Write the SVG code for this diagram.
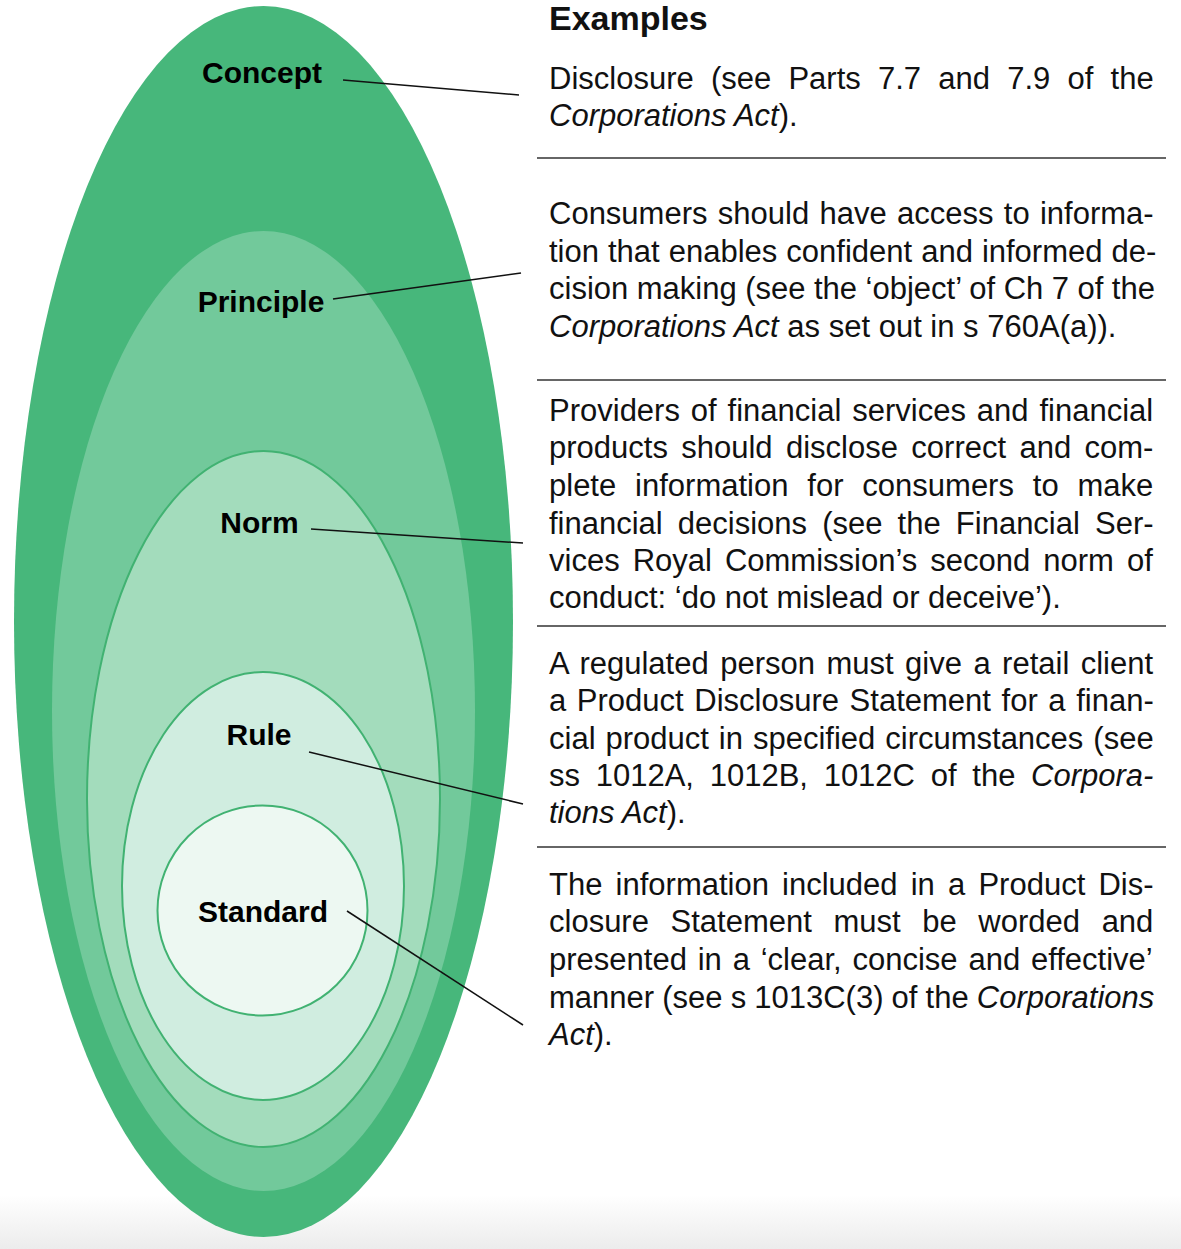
<svg xmlns="http://www.w3.org/2000/svg" width="1181" height="1249" viewBox="0 0 1181 1249">
<defs>
<linearGradient id="shade" x1="0" y1="0" x2="0" y2="1">
<stop offset="0" stop-color="#ffffff"/>
<stop offset="1" stop-color="#ececec"/>
</linearGradient>
</defs>
<style>
.lbl{font-family:"Liberation Sans",Arial,sans-serif;font-weight:bold;font-size:30px;fill:#000;text-anchor:middle}
.body{font-family:"Liberation Sans",Arial,sans-serif;font-size:31px;fill:#111}
.it{font-style:italic}
.head{font-family:"Liberation Sans",Arial,sans-serif;font-weight:bold;font-size:34px;fill:#111}
.rule{stroke:#333;stroke-width:1.6}
.conn{stroke:#111;stroke-width:1.5;fill:none}
.ring{stroke:#41b272;stroke-width:2}
</style>
<rect x="0" y="0" width="1181" height="1249" fill="#fff"/>
<rect x="0" y="1195" width="1181" height="54" fill="url(#shade)"/>

<g id="concept">
<ellipse cx="263.5" cy="621.5" rx="249.5" ry="615.5" fill="#47b77b"/>
<text class="lbl" x="262" y="83">Concept</text>
</g>
<g id="principle">
<ellipse cx="263.5" cy="711" rx="211.5" ry="480" fill="#72c99b"/>
<text class="lbl" x="261" y="312">Principle</text>
</g>
<g id="norm">
<ellipse cx="263.5" cy="799" rx="176.5" ry="348" fill="#a3dcbc" class="ring"/>
<text class="lbl" x="259.5" y="533">Norm</text>
</g>
<g id="rule">
<ellipse cx="263" cy="886" rx="141" ry="214" fill="#d0ede0" class="ring"/>
<text class="lbl" x="259" y="745">Rule</text>
</g>
<g id="standard">
<circle cx="262.5" cy="910.5" r="105" fill="#edf8f2" class="ring"/>
<text class="lbl" x="263" y="922">Standard</text>
</g>

<g id="connectors">
<line class="conn" x1="343" y1="80" x2="519" y2="95"/>
<line class="conn" x1="333" y1="299" x2="521" y2="273"/>
<line class="conn" x1="311" y1="529" x2="523" y2="543"/>
<line class="conn" x1="309" y1="752" x2="523" y2="804"/>
<line class="conn" x1="347" y1="911" x2="523" y2="1025"/>
</g>

<g id="examples">
<text class="head" x="549" y="30">Examples</text>
<line class="rule" x1="537" y1="158" x2="1166" y2="158"/>
<line class="rule" x1="537" y1="380" x2="1166" y2="380"/>
<line class="rule" x1="537" y1="626" x2="1166" y2="626"/>
<line class="rule" x1="537" y1="847" x2="1166" y2="847"/>

<text class="body" x="549" y="89" word-spacing="8.6">Disclosure (see Parts 7.7 and 7.9 of the</text>
<text class="body" x="549" y="126"><tspan class="it">Corporations Act</tspan>).</text>

<text class="body" x="549" y="224" word-spacing="1.7">Consumers should have access to informa-</text>
<text class="body" x="549" y="262" word-spacing="0.4">tion that enables confident and informed de-</text>
<text class="body" x="549" y="299" word-spacing="-0.13">cision making (see the ‘object’ of Ch 7 of the</text>
<text class="body" x="549" y="337"><tspan class="it">Corporations Act</tspan> as set out in s 760A(a)).</text>

<text class="body" x="549" y="421" word-spacing="2.3">Providers of financial services and financial</text>
<text class="body" x="549" y="458" word-spacing="4.75">products should disclose correct and com-</text>
<text class="body" x="549" y="496" word-spacing="10.25">plete information for consumers to make</text>
<text class="body" x="549" y="534" word-spacing="6.5">financial decisions (see the Financial Ser-</text>
<text class="body" x="549" y="571" word-spacing="4.4">vices Royal Commission’s second norm of</text>
<text class="body" x="549" y="608">conduct: ‘do not mislead or deceive’).</text>

<text class="body" x="549" y="674" word-spacing="2.85">A regulated person must give a retail client</text>
<text class="body" x="549" y="711" word-spacing="2.0">a Product Disclosure Statement for a finan-</text>
<text class="body" x="549" y="749" word-spacing="1.35">cial product in specified circumstances (see</text>
<text class="body" x="549" y="786" word-spacing="7.1">ss 1012A, 1012B, 1012C of the <tspan class="it">Corpora-</tspan></text>
<text class="body" x="549" y="823"><tspan class="it">tions Act</tspan>).</text>

<text class="body" x="549" y="895" word-spacing="4.55">The information included in a Product Dis-</text>
<text class="body" x="549" y="932" word-spacing="13.0">closure Statement must be worded and</text>
<text class="body" x="549" y="970" word-spacing="2.2">presented in a ‘clear, concise and effective’</text>
<text class="body" x="549" y="1008" word-spacing="-0.5">manner (see s 1013C(3) of the <tspan class="it">Corporations</tspan></text>
<text class="body" x="549" y="1045"><tspan class="it">Act</tspan>).</text>
</g>
</svg>
